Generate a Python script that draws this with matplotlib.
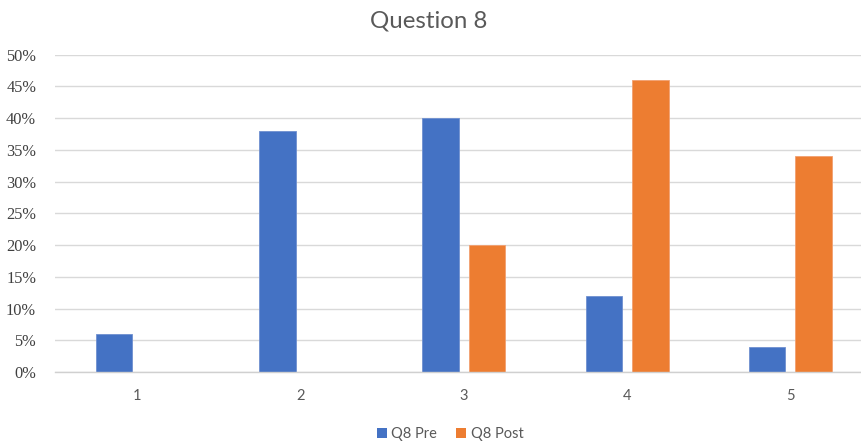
import matplotlib
matplotlib.use("Agg")
import matplotlib.pyplot as plt
from matplotlib.patches import Patch
import numpy as np

categories = ["1", "2", "3", "4", "5"]
pre_values = [6, 38, 40, 12, 4]
post_values = [0, 0, 20, 46, 34]
series_names = ["Q8 Pre", "Q8 Post"]
y_ticks = [0, 5, 10, 15, 20, 25, 30, 35, 40, 45, 50]

BLUE = "#4472C4"
ORANGE = "#ED7D31"
GRID = "#D9D9D9"
TEXT = "#595959"

W, H = 862, 441
fig = plt.figure(figsize=(W / 100, H / 100), dpi=100)
left, right, bottom, top = 55.5, 872, 372, 54.7
ax = fig.add_axes([left / W, (H - bottom) / H, (right - left) / W, (bottom - top) / H])

x = np.arange(len(categories))
width = 0.224
offset = 0.142
ax.bar(x - offset, pre_values, width, color=BLUE, edgecolor="#6F90D0", linewidth=0.6, zorder=3)
ax.bar(x + offset, post_values, width, color=ORANGE, edgecolor="#F2A070", linewidth=0.6, zorder=3)

ax.set_xlim(-0.5, len(categories) - 0.5)
ax.set_ylim(0, 50)
ax.set_yticks(y_ticks)
ax.set_yticklabels([f"{v}%" for v in y_ticks], family="Liberation Serif", fontsize=11.8, color="#404040")
ax.set_xticks(x)
ax.set_xticklabels(categories, family="Lato", fontsize=10.5, color=TEXT)
ax.tick_params(axis="both", length=0)
ax.tick_params(axis="y", pad=14)
ax.tick_params(axis="x", pad=12)

ax.grid(axis="y", color=GRID, linewidth=1.0, zorder=0)
for s in ["top", "right", "left"]:
    ax.spines[s].set_visible(False)
ax.spines["bottom"].set_color("#D0D0D0")
ax.spines["bottom"].set_linewidth(1.0)
ax.spines["bottom"].set_zorder(4)

fig.text(429 / W, 1 - 21 / H, "Question 8", family="Lato", fontsize=17.3,
         color=TEXT, ha="center", va="center")

handles = [Patch(facecolor=BLUE), Patch(facecolor=ORANGE)]
fig.legend(handles, series_names, loc="center", bbox_to_anchor=(450 / W, 1 - 434 / H),
           ncol=2, frameon=False, prop={"family": "Lato", "size": 10.5},
           labelcolor=TEXT, handlelength=0.7, handleheight=0.7, handletextpad=0.3,
           columnspacing=1.3)

fig.savefig("out.png", dpi=100, facecolor="white")
